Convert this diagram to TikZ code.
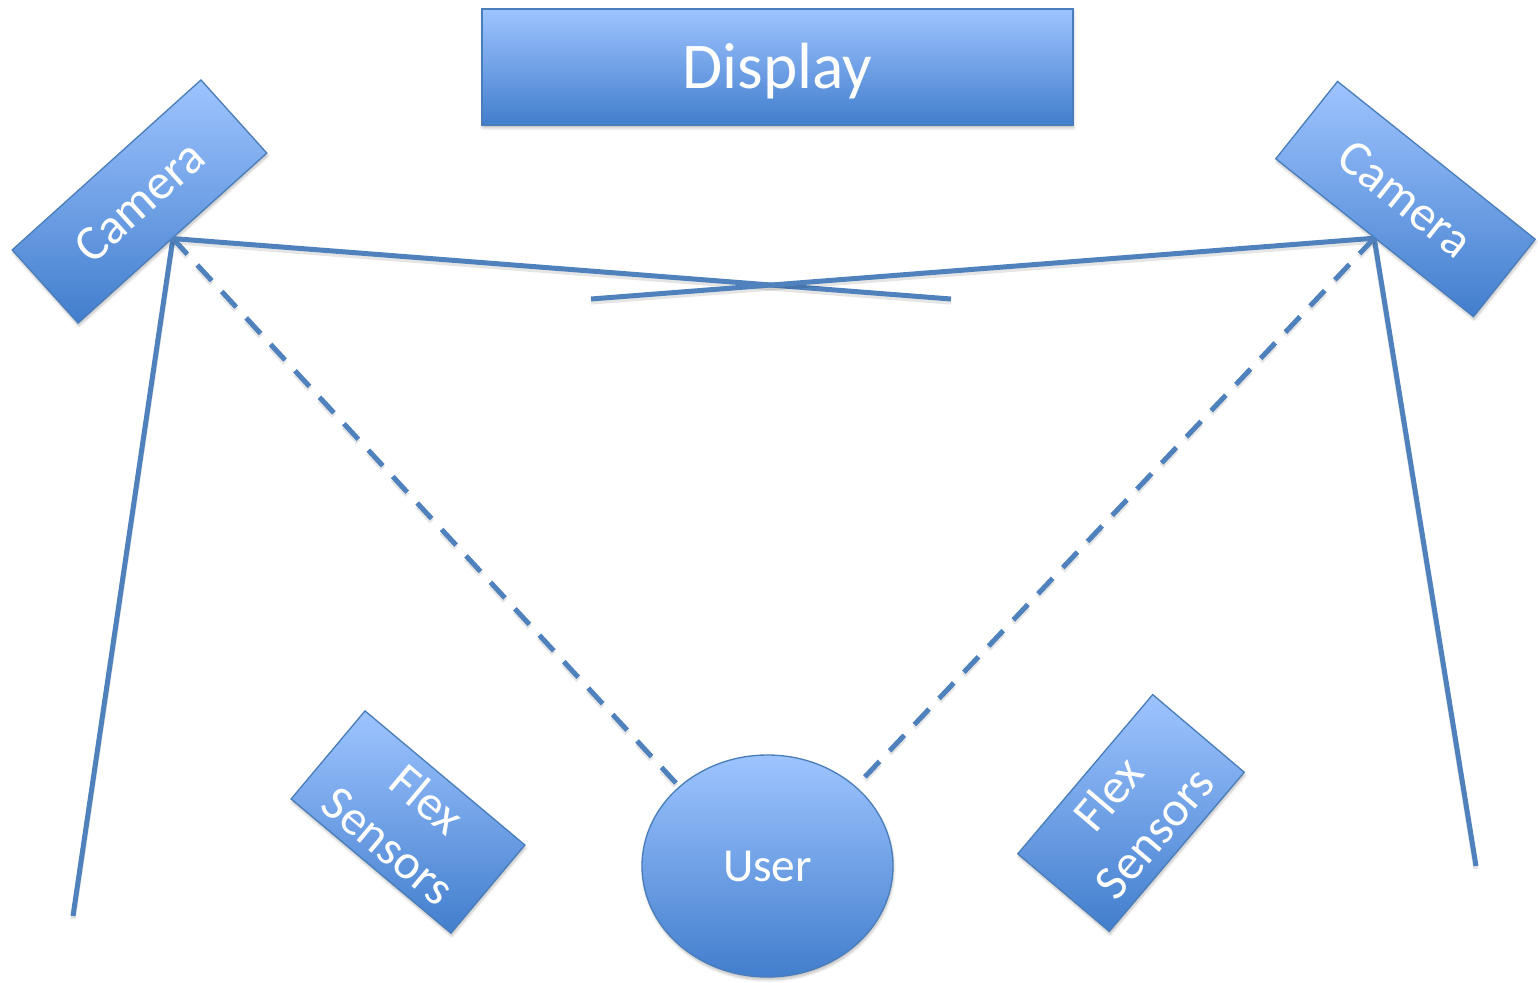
\documentclass[tikz,border=0pt]{standalone}
\usepackage{fontspec}
\setmainfont{Carlito}
\usetikzlibrary{shapes.geometric,shadows.blur}
\definecolor{boxtop}{RGB}{158,196,255}
\definecolor{boxbot}{RGB}{66,126,205}
\definecolor{edge}{RGB}{74,126,187}
\definecolor{wire}{RGB}{79,129,189}
\tikzset{
  shapebox/.style={draw=edge, line width=1pt, top color=boxtop, bottom color=boxbot,
    text=white, inner sep=0pt, align=center,
    blur shadow={shadow xshift=0.6pt, shadow yshift=-2.2pt, shadow opacity=25, shadow blur steps=6}},
  wireline/.style={draw=wire, line width=3.75pt,
    preaction={draw=black, opacity=0.10, line width=4pt, transform canvas={yshift=-2.2pt}}},
  dashwire/.style={draw=wire, line width=3.75pt, dash pattern=on 16pt off 11pt,
    preaction={draw=black, opacity=0.10, line width=4pt, dash pattern=on 16pt off 11pt,
      transform canvas={yshift=-2.2pt}}},
  camfont/.style={font=\fontsize{37.5}{44}\selectfont},
  flexfont/.style={font=\fontsize{37}{45}\selectfont},
}
\begin{document}
\begin{tikzpicture}[x=0.75pt,y=-0.75pt]
\useasboundingbox (0,0) rectangle (1538,982);

% nodes
\node[shapebox, minimum width=443.25pt, minimum height=87pt,
      font=\fontsize{49}{56}\selectfont] (disp) at (777.5,67)
      {\raisebox{-3pt}[\height][\depth]{Display}};
\node[shapebox, camfont, rotate=42, minimum width=190.5pt, minimum height=73.8pt]
      (lcam) at (139.5,201.5) {Camera};
\node[shapebox, camfont, rotate=-38.6, minimum width=189.75pt, minimum height=74.25pt]
      (rcam) at (1405.5,199) {Camera};
\node[shapebox, flexfont, rotate=-40, minimum width=156.5pt, minimum height=86.25pt]
      (lflex) at (408,822) {Flex\\Sensors};
\node[shapebox, flexfont, rotate=49.7, minimum width=156.5pt, minimum height=90pt]
      (rflex) at (1131,813) {Flex\\Sensors};
\node[shapebox, ellipse, minimum width=188.25pt, minimum height=166.5pt,
      font=\fontsize{35.5}{40}\selectfont] (user) at (767.5,866) {User};

% free ends
\coordinate (lx) at (951,299);
\coordinate (rx) at (591,299);
\coordinate (lfoot) at (73,916);
\coordinate (rfoot) at (1476,866);

% connectors
\draw[wireline] (lcam.south) -- (lx);
\draw[wireline] (rcam.south) -- (rx);
\draw[wireline] (lcam.south) -- (lfoot);
\draw[wireline] (rcam.south) -- (rfoot);
\draw[dashwire] (lcam.south) -- (user.138);
\draw[dashwire] (rcam.south) -- (user.42);
\end{tikzpicture}
\end{document}
